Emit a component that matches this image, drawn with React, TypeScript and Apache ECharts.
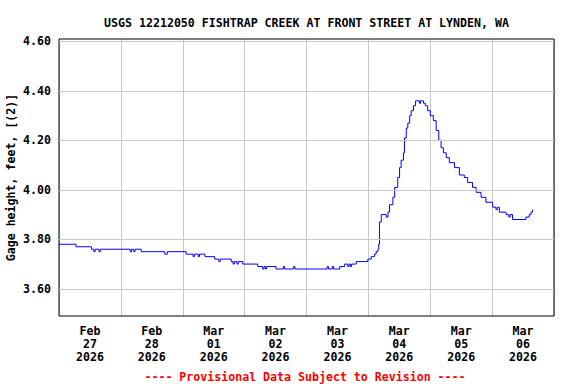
import React, { useEffect, useRef } from "react";
import * as echarts from "echarts";

const titleText = "USGS 12212050 FISHTRAP CREEK AT FRONT STREET AT LYNDEN, WA";
const yAxisName = "Gage height, feet, [(2)]";
const footerText = "---- Provisional Data Subject to Revision ----";
const dayLabels = [
  "Feb\n27\n2026",
  "Feb\n28\n2026",
  "Mar\n01\n2026",
  "Mar\n02\n2026",
  "Mar\n03\n2026",
  "Mar\n04\n2026",
  "Mar\n05\n2026",
  "Mar\n06\n2026",
];
const yTicks = [3.6, 3.8, 4.0, 4.2, 4.4, 4.6];

// hours since Feb 27 00:00 and gage height (ft); each value holds until next point
const hours = [
  0, 6.6, 12.6, 13.5, 14.0, 15.5, 16.0, 27.6, 28.2, 29.0, 29.5, 31.9, 41.0, 42.0,
  49.3, 52.0, 52.5, 54.0, 54.5, 56.6, 60.4, 62.0, 62.5, 66.8, 67.5, 68.0, 69.0, 69.5,
  71.3, 77.1, 79.0, 79.5, 80.0, 80.5, 84.2, 87.0, 87.5, 91.0, 91.5, 103.0, 104.0, 104.5,
  106.0, 106.5, 108.9, 110.8, 112.0, 112.5, 113.0, 113.5, 115.3, 119.8, 121.1, 122.4,
  123.0, 123.7, 124.0, 124.3, 125.0, 126.9, 127.6, 128.2, 129.5, 130.2, 131.4, 132.1,
  132.7, 133.6, 134.0, 134.7, 135.3, 136.0, 136.6, 137.5, 138.3, 139.8, 140.2, 141.4,
  142.1, 143.0, 144.0, 145.2, 146.3, 147.3, 148.2, 149.1, 150.2, 151.4, 153.4, 155.3,
  157.2, 158.5, 160.4, 161.8, 163.7, 165.6, 168.2, 169.5, 170.0, 170.8, 173.4, 174.5,
  175.0, 175.9, 180.8, 181.1, 182.4, 183.1, 183.7,
];
const gage = [
  3.78, 3.77, 3.76, 3.75, 3.76, 3.75, 3.76, 3.75, 3.76, 3.75, 3.76, 3.75, 3.74, 3.75,
  3.74, 3.73, 3.74, 3.73, 3.74, 3.73, 3.72, 3.71, 3.72, 3.71, 3.70, 3.71, 3.70, 3.71,
  3.70, 3.69, 3.68, 3.69, 3.68, 3.69, 3.68, 3.69, 3.68, 3.69, 3.68, 3.68, 3.69, 3.68,
  3.69, 3.68, 3.69, 3.70, 3.69, 3.70, 3.69, 3.70, 3.71, 3.72, 3.73, 3.74,
  3.75, 3.76, 3.78, 3.87, 3.90, 3.89, 3.91, 3.94, 3.97, 4.01, 4.05, 4.09,
  4.12, 4.15, 4.21, 4.25, 4.27, 4.30, 4.32, 4.34, 4.36, 4.35, 4.36, 4.35,
  4.34, 4.32, 4.30, 4.28, 4.24, 4.20, 4.17, 4.15, 4.13, 4.11, 4.09, 4.06,
  4.05, 4.03, 4.01, 3.99, 3.97, 3.95, 3.93, 3.92, 3.93, 3.91, 3.90, 3.89,
  3.90, 3.88, 3.88, 3.89, 3.90, 3.91, 3.92,
];

const FONT = "'DejaVu Sans Mono', monospace";

export default function App() {
  const ref = useRef<HTMLDivElement>(null);
  useEffect(() => {
    if (!ref.current) return;
    const chart = echarts.init(ref.current, null, { renderer: "svg" });
    const data = hours.map((h, i) => [h, gage[i]]);
    const gridLeft = 59;
    const gridTop = 39;
    const gridW = 495;
    const gridH = 277;
    const textStyle = { fontFamily: FONT, fontWeight: "bold" as const, fontSize: 11.6, color: "#000" };
    chart.setOption({
      animation: false,
      backgroundColor: "#fff",
      grid: {
        left: gridLeft,
        top: gridTop,
        width: gridW,
        height: gridH,
        containLabel: false,
        outerBoundsMode: "none",
        show: true,
        borderColor: "#000",
        borderWidth: 1,
        backgroundColor: "transparent",
        z: 5,
      },
      xAxis: [
        {
          type: "value",
          min: 0,
          max: 192,
          interval: 24,
          axisLine: { show: false },
          axisTick: { show: false },
          axisLabel: { show: false },
          splitLine: { show: true, lineStyle: { color: "#c8c8c8", width: 1 } },
        },
        {
          type: "category",
          data: dayLabels,
          position: "bottom",
          boundaryGap: true,
          axisLine: { show: false },
          axisTick: { show: false },
          splitLine: { show: false },
          axisLabel: { ...textStyle, lineHeight: 13, margin: 8, interval: 0 },
        },
      ],
      yAxis: {
        type: "value",
        min: 3.49,
        max: 4.61,
        axisLine: { show: false },
        axisTick: { show: false },
        splitLine: { show: false },
        axisLabel: {
          ...textStyle,
          margin: 8,
          customValues: yTicks,
          formatter: (v: number) => v.toFixed(2),
        },
        name: yAxisName,
        nameLocation: "middle",
        nameRotate: 90,
        nameGap: 42,
        nameMoveOverlap: false,
        nameTextStyle: textStyle,
      },
      series: [
        {
          type: "line",
          data: [[0, 3.6]],
          symbol: "none",
          lineStyle: { opacity: 0 },
          silent: true,
          z: 1,
          markLine: {
            silent: true,
            symbol: "none",
            label: { show: false },
            lineStyle: { color: "#c8c8c8", width: 1, type: "solid" },
            data: yTicks.map((v) => ({ yAxis: v })),
          },
        },
        {
          type: "line",
          data,
          step: "end",
          symbol: "none",
          z: 3,
          lineStyle: { color: "#0000ff", width: 1 },
        },
      ],
      graphic: [
        {
          type: "text",
          x: gridLeft + gridW / 2,
          y: 22.5,
          style: {
            text: titleText,
            fontFamily: FONT,
            fontWeight: "bold",
            fontSize: 11.6,
            fill: "#000",
            textAlign: "center",
            textVerticalAlign: "middle",
          },
        },
        {
          type: "text",
          x: 305,
          y: 376.5,
          style: {
            text: footerText,
            fontFamily: FONT,
            fontWeight: "bold",
            fontSize: 11.6,
            fill: "#ff0000",
            textAlign: "center",
            textVerticalAlign: "middle",
          },
        },
      ],
    });
    return () => chart.dispose();
  }, []);
  return (
    <div
      ref={ref}
      style={{ position: "fixed", left: 0, top: 0, width: 576, height: 384, background: "#fff" }}
    />
  );
}
